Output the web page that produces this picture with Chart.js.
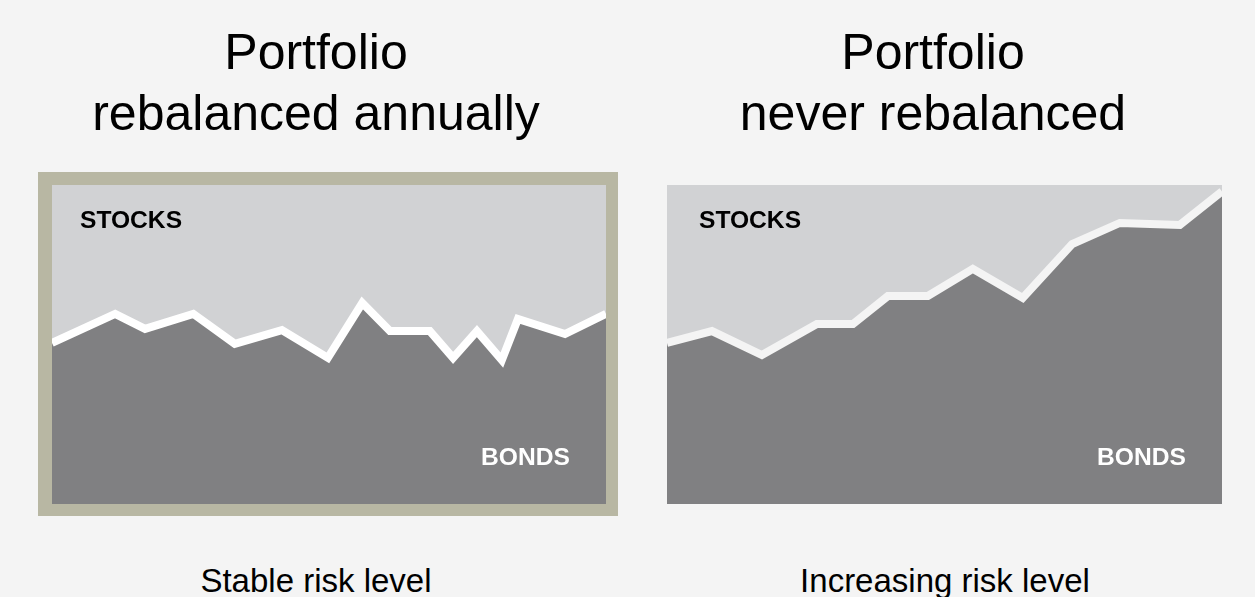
<!DOCTYPE html>
<html>
<head>
<meta charset="utf-8">
<script src="https://cdn.jsdelivr.net/npm/chart.js@4"></script>
<style>
    body { margin: 0; background: #f4f4f4; font-family: "Liberation Sans", Arial, sans-serif; }
    #page { position: relative; width: 1255px; height: 597px; overflow: hidden; }
    .title { position: absolute; width: 600px; text-align: center; font-size: 50px; line-height: 61px; color: #000; }
    .caption { position: absolute; width: 600px; text-align: center; font-size: 33px; line-height: 33px; color: #000; }
    .tag { position: absolute; font-size: 24.6px; line-height: 24.6px; font-weight: bold; }
    .frame { position: absolute; left: 38px; top: 172px; width: 580px; height: 344px; background: #b8b7a3; }
    canvas { position: absolute; }
</style>
</head>
<body>
<div id="page">
    <div class="title" style="left:16px; top:22px;">Portfolio<br>rebalanced annually</div>
    <div class="title" style="left:633px; top:22px;">Portfolio<br>never rebalanced</div>

    <div class="frame"></div>
    <canvas id="rebalanced" width="554" height="319" style="left:52px; top:185px;"></canvas>
    <canvas id="never" width="555" height="319" style="left:667px; top:185px;"></canvas>

    <div class="tag" style="left:80px; top:208px; color:#000;">STOCKS</div>
    <div class="tag" style="left:481px; top:445px; color:#fff;">BONDS</div>
    <div class="tag" style="left:699px; top:208px; color:#000;">STOCKS</div>
    <div class="tag" style="left:1097px; top:445px; color:#fff;">BONDS</div>

    <div class="caption" style="left:16px; top:564px;">Stable risk level</div>
    <div class="caption" style="left:645px; top:564px;">Increasing risk level</div>
</div>

<script>
// time axis 0..100 across each panel, bond share (%) of the portfolio
const rebalancedX = [0, 11.4, 16.8, 25.5, 33.0, 41.5, 49.8, 56.0, 61.0, 68.2, 72.4, 76.7, 81.2, 84.1, 92.6, 100];
const rebalancedBonds = [50.5, 59.6, 54.9, 59.6, 50.2, 54.5, 45.8, 63.0, 54.2, 54.2, 45.8, 54.2, 45.1, 58.0, 53.3, 59.6];

const neverX = [0, 8.1, 17.1, 27.0, 33.5, 39.8, 47.0, 55.1, 64.1, 73.0, 81.6, 92.4, 100];
const neverBonds = [50.5, 54.2, 46.7, 56.4, 56.4, 65.2, 65.2, 73.7, 64.6, 81.5, 88.1, 87.5, 98.0];

const STOCKS_COLOR = '#d1d2d4';
const BONDS_COLOR = '#808082';

function drawPortfolio(sel, xs, bonds, lineColor) {
    const bondPoints = xs.map((x, i) => ({ x: x, y: bonds[i] }));
    const stockPoints = xs.map((x, i) => ({ x: x, y: 100 - bonds[i] }));

    const ctx = document.getElementById(sel).getContext('2d');

    return new Chart(ctx, {
        type: 'line',
        data: {
            datasets: [{
                label: 'Bonds',
                data: bondPoints,
                fill: 'origin',
                backgroundColor: BONDS_COLOR,
                borderColor: lineColor,
                borderWidth: 8,
                borderJoinStyle: 'miter',
                pointRadius: 0,
                tension: 0,
                clip: 0
            }, {
                label: 'Stocks',
                data: stockPoints,
                fill: '-1',
                backgroundColor: STOCKS_COLOR,
                borderWidth: 0,
                pointRadius: 0,
                tension: 0,
                clip: 0
            }]
        },
        options: {
            responsive: false,
            animation: false,
            devicePixelRatio: 1,
            layout: { padding: 0 },
            scales: {
                x: { type: 'linear', min: 0, max: 100, display: false },
                y: { min: 0, max: 100, stacked: true, display: false }
            },
            plugins: {
                legend: { display: false },
                tooltip: { enabled: false }
            }
        }
    });
}

drawPortfolio('rebalanced', rebalancedX, rebalancedBonds, '#ffffff');
drawPortfolio('never', neverX, neverBonds, '#f4f4f4');
</script>
</body>
</html>
